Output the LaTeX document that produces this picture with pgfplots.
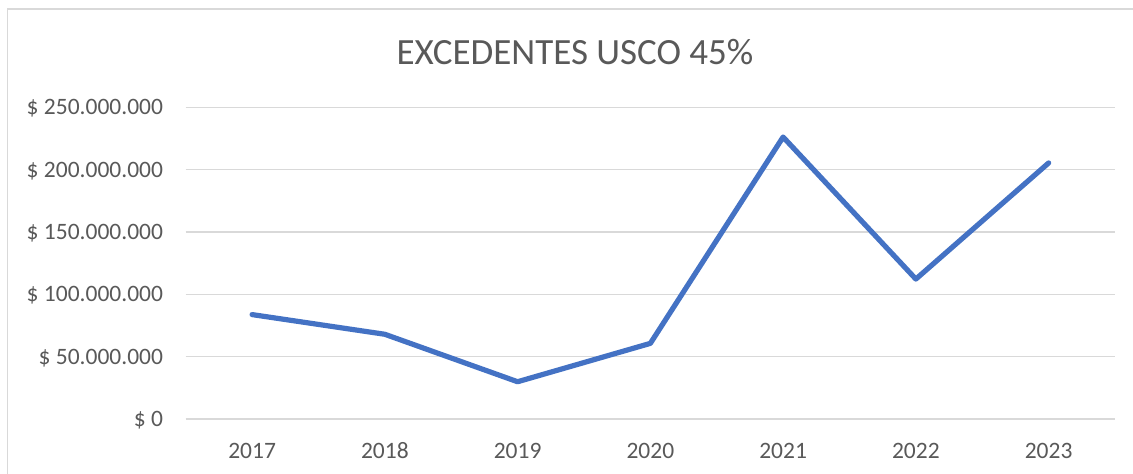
\documentclass[border=0pt]{standalone}
\usepackage{pgfplots}
\pgfplotsset{compat=1.18}
\usepackage{fontspec}
\setmainfont{Carlito}
\definecolor{txt}{HTML}{595959}
\definecolor{gridc}{HTML}{D9D9D9}
\definecolor{lineblue}{HTML}{4472C4}
\begin{document}
\begin{tikzpicture}[x=1pt,y=1pt]
\useasboundingbox (0,0) rectangle (1133,474);
\fill[white] (0,0) rectangle (1133,474);
\draw[gridc, line width=1.3pt] (7.5,0) -- (7.5,465) -- (1133,465);
\node[anchor=base, text=txt, inner sep=0pt, font=\fontsize{37}{42}\selectfont] at (575,409.7) {EXCEDENTES USCO 45\%};
\begin{axis}[
  at={(185.7pt,55pt)}, anchor=south west,
  scale only axis, width=929.3pt, height=311.5pt,
  xmin=-0.5, xmax=6.5, ymin=0, ymax=250000000,
  scaled y ticks=false,
  axis line style={draw=none},
  major tick length=0pt,
  tick style={draw=none},
  ymajorgrids, grid style={gridc, line width=1.3pt},
  xtick={0,1,2,3,4,5,6},
  xticklabels={2017,2018,2019,2020,2021,2022,2023},
  ytick={0,50000000,100000000,150000000,200000000,250000000},
  yticklabels={\$ 0,\$ 50.000.000,\$ 100.000.000,\$ 150.000.000,\$ 200.000.000,\$ 250.000.000},
  ticklabel style={text=txt, font=\fontsize{23.5}{27}\selectfont, inner sep=0pt},
  xticklabel style={anchor=base, yshift=-40pt},
  yticklabel style={anchor=base east, xshift=-22.5pt, yshift=-7.4pt},
  clip=false,
]
\addplot[lineblue, line width=5.2pt, line join=round, line cap=round] coordinates {
  (0,83800000) (1,68000000) (2,29900000) (3,60700000) (4,226300000) (5,112300000) (6,205500000)
};
\end{axis}
\end{tikzpicture}
\end{document}
